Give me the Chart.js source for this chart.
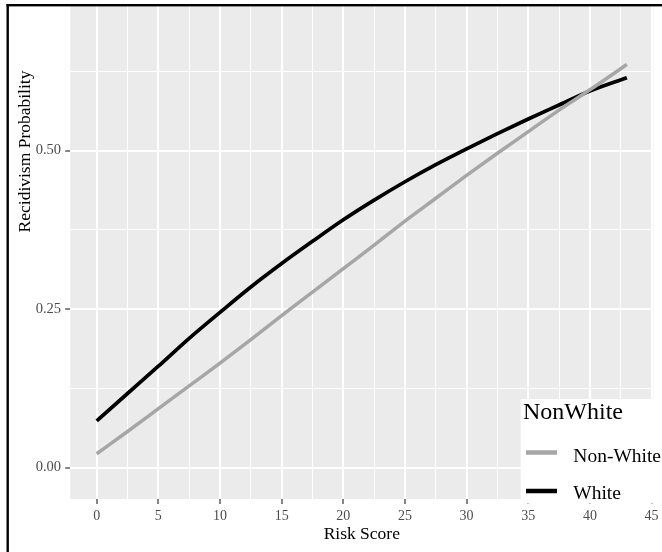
<!DOCTYPE html>
<html>
<head>
<meta charset="utf-8">
<script src="https://cdn.jsdelivr.net/npm/chart.js@4.4.1/dist/chart.umd.min.js"></script>
<style>
  html, body { margin: 0; padding: 0; background: #ffffff; }
  #wrap { width: 662px; height: 552px; position: relative; }
</style>
</head>
<body>
<div id="wrap"><canvas id="c"></canvas></div>
<script>
// ---- data ----
const riskScores = [0, 2.5, 5, 7.5, 10, 12.5, 15, 17.5, 20, 22.5, 25, 27.5, 30, 32.5, 35, 37.5, 40, 43];
const nonWhiteProb = [0.022, 0.057, 0.093, 0.129, 0.165, 0.202, 0.240, 0.277, 0.314, 0.351, 0.389, 0.425, 0.461, 0.496, 0.530, 0.564, 0.596, 0.636];
const whiteProb = [0.074, 0.117, 0.160, 0.204, 0.245, 0.285, 0.322, 0.357, 0.391, 0.422, 0.451, 0.478, 0.503, 0.527, 0.550, 0.572, 0.594, 0.615];
const seriesNames = ['Non-White', 'White'];
const legendTitle = 'NonWhite';
const xTitle = 'Risk Score';
const yTitle = 'Recidivism Probability';
const xMajorTicks = [0, 5, 10, 15, 20, 25, 30, 35, 40, 45];
const xMajorLabels = ['0', '5', '10', '15', '20', '25', '30', '35', '40', '45'];
const xMinorTicks = [2.5, 7.5, 12.5, 17.5, 22.5, 27.5, 32.5, 37.5, 42.5];
const yMajorTicks = [0, 0.25, 0.5];
const yMajorLabels = ['0.00', '0.25', '0.50'];
const yMinorTicks = [0.125, 0.375, 0.625];

const SERIF = '"Liberation Serif", "Times New Roman", serif';
const isMajor = (v, list) => list.some(m => Math.abs(m - v) < 1e-9);

const toPoints = (xs, ys) => xs.map((x, i) => ({x: x, y: ys[i]}));

const framePlugin = {
  id: 'frame',
  beforeDraw(chart) {
    const {ctx, chartArea: a} = chart;
    ctx.save();
    ctx.fillStyle = '#EBEBEB';
    ctx.fillRect(a.left, a.top, a.right - a.left, a.bottom - a.top);
    ctx.restore();
  },
  afterDraw(chart) {
    const {ctx} = chart;
    ctx.save();
    // outer frame (left and top edges visible)
    ctx.fillStyle = '#000000';
    ctx.fillRect(6.5, 4, 2.4, 548);
    ctx.fillRect(6.5, 4, 656, 2.4);
    // y axis title
    ctx.translate(25, 151.5);
    ctx.rotate(-Math.PI / 2);
    ctx.font = '17.5px ' + SERIF;
    ctx.fillStyle = '#000000';
    ctx.textAlign = 'center';
    ctx.textBaseline = 'middle';
    ctx.fillText(yTitle, 0, 0);
    ctx.restore();

    // legend
    ctx.save();
    ctx.fillStyle = '#FFFFFF';
    ctx.fillRect(520.7, 399, 142, 104.5);
    ctx.fillStyle = '#000000';
    ctx.textAlign = 'left';
    ctx.textBaseline = 'alphabetic';
    ctx.font = '24px ' + SERIF;
    ctx.fillText(legendTitle, 523, 419);
    const keyY = [452.5, 491];
    const textY = [461.5, 499];
    chart.data.datasets.forEach((ds, i) => {
      ctx.strokeStyle = ds.borderColor;
      ctx.lineWidth = 4.5;
      ctx.lineCap = 'butt';
      ctx.beginPath();
      ctx.moveTo(526, keyY[i]);
      ctx.lineTo(557, keyY[i]);
      ctx.stroke();
      ctx.fillStyle = '#000000';
      ctx.font = '19.5px ' + SERIF;
      ctx.fillText(ds.label, 573.3, textY[i]);
    });
    ctx.restore();
  }
};

const gridOpts = (majors) => ({
  color: '#FFFFFF',
  lineWidth: (c) => (c.tick && isMajor(c.tick.value, majors)) ? 2 : 1,
  drawTicks: true,
  tickLength: 5,
  tickWidth: 1.2,
  tickColor: (c) => (c.tick && isMajor(c.tick.value, majors)) ? '#333333' : 'rgba(0,0,0,0)'
});

new Chart(document.getElementById('c'), {
  type: 'line',
  data: {
    datasets: [
      {
        label: seriesNames[0],
        data: toPoints(riskScores, nonWhiteProb),
        borderColor: '#A6A6A6',
        borderWidth: 3.5,
        pointRadius: 0,
        cubicInterpolationMode: 'monotone',
        fill: false
      },
      {
        label: seriesNames[1],
        data: toPoints(riskScores, whiteProb),
        borderColor: '#000000',
        borderWidth: 3.7,
        pointRadius: 0,
        cubicInterpolationMode: 'monotone',
        fill: false
      }
    ]
  },
  options: {
    responsive: true,
    maintainAspectRatio: false,
    animation: false,
    events: [],
    devicePixelRatio: 1,
    layout: { padding: { left: 0, top: 6, right: 8.6, bottom: 0 } },
    plugins: {
      legend: { display: false },
      tooltip: { enabled: false },
      title: { display: false }
    },
    scales: {
      x: {
        type: 'linear',
        min: -2.15,
        max: 45.15,
        afterBuildTicks: (s) => { s.ticks = xMajorTicks.concat(xMinorTicks).sort((a, b) => a - b).map(v => ({value: v})); },
        afterFit: (s) => { s.height = 53; s.paddingLeft = 0; s.paddingRight = 0; s.paddingTop = 0; s.paddingBottom = 0; },
        grid: gridOpts(xMajorTicks),
        border: { display: false },
        ticks: {
          autoSkip: false,
          maxRotation: 0,
          minRotation: 0,
          padding: 4,
          color: '#4D4D4D',
          font: { family: SERIF, size: 14 },
          callback: (v) => { const i = xMajorTicks.findIndex(m => Math.abs(m - v) < 1e-9); return i >= 0 ? xMajorLabels[i] : ''; }
        },
        title: {
          display: true,
          text: xTitle,
          color: '#000000',
          font: { family: SERIF, size: 17.5, lineHeight: 1.2 },
          padding: { top: 0, bottom: 6.7 }
        }
      },
      y: {
        type: 'linear',
        min: -0.0494,
        max: 0.7282,
        afterBuildTicks: (s) => { s.ticks = yMajorTicks.concat(yMinorTicks).sort((a, b) => a - b).map(v => ({value: v})); },
        afterFit: (s) => { s.width = 70.2; s.paddingLeft = 0; s.paddingRight = 0; s.paddingTop = 0; s.paddingBottom = 0; },
        grid: gridOpts(yMajorTicks),
        border: { display: false },
        ticks: {
          autoSkip: false,
          padding: 4.2,
          color: '#4D4D4D',
          font: { family: SERIF, size: 14.5 },
          callback: (v) => { const i = yMajorTicks.findIndex(m => Math.abs(m - v) < 1e-9); return i >= 0 ? yMajorLabels[i] : ''; }
        },
        title: { display: false }
      }
    }
  },
  plugins: [framePlugin]
});
</script>
</body>
</html>
